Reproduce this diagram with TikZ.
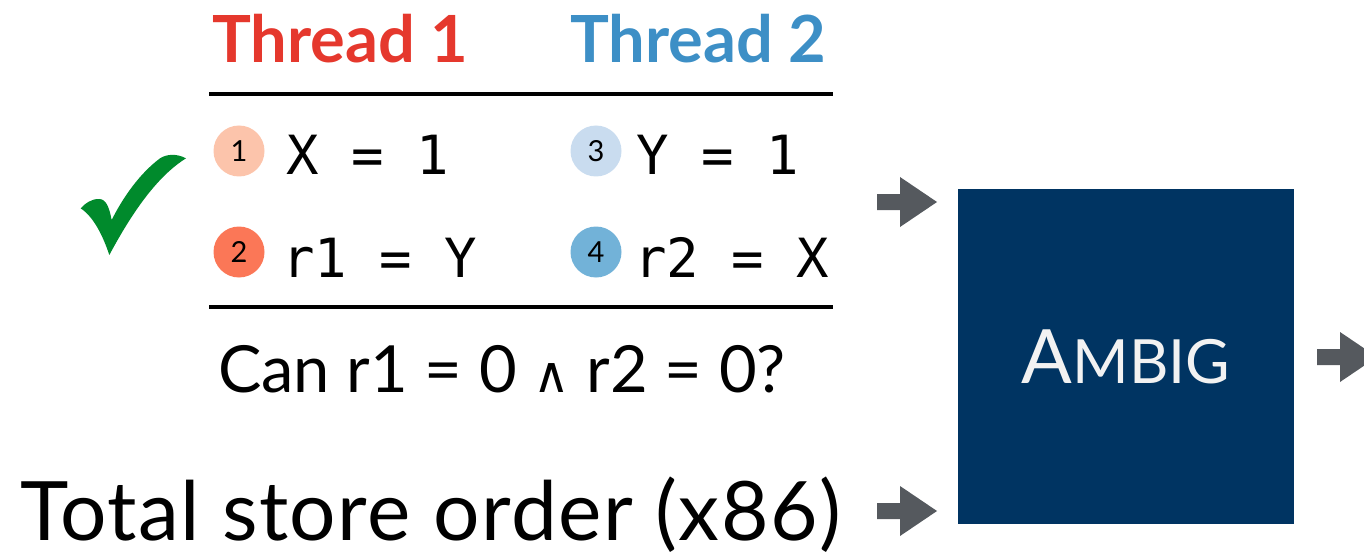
\documentclass[tikz,border=0pt]{standalone}
\usepackage{fontspec}
\setmainfont{Lato}
\setmonofont{DejaVu Sans Mono}
\newfontfamily\symfont{DejaVu Sans}
\definecolor{redT}{HTML}{E5382D}
\definecolor{blueT}{HTML}{3D8FC6}
\definecolor{redA}{HTML}{FCC4AB}
\definecolor{redB}{HTML}{FB7757}
\definecolor{blueA}{HTML}{C9DCEF}
\definecolor{blueB}{HTML}{72B2D8}
\definecolor{navy}{HTML}{003462}
\definecolor{arrowgray}{HTML}{55595E}
\definecolor{okgreen}{HTML}{008A2C}

\begin{document}
\begin{tikzpicture}[x=1pt,y=-1pt,
    head/.style={anchor=base west,inner sep=0pt,font=\fontsize{65}{65}\selectfont\bfseries},
    stmt/.style={anchor=base west,inner sep=0pt,font=\fontsize{54}{54}\selectfont\ttfamily},
    num/.style={circle,minimum size=51,inner sep=0pt,font=\fontsize{29}{29}\selectfont},
    rule/.style={line width=4.5pt},
    bigtext/.style={anchor=base west,inner sep=0pt},
    fatarrow/.pic={\fill[arrowgray] (0,-8) -- (23,-8) -- (23,-25) -- (60,0)
                     -- (23,25) -- (23,8) -- (0,8) -- cycle;},
  ]
  \useasboundingbox (0,0) rectangle (1364,556);

  % Headings
  \node[head,text=redT]  (thr1) at (212,63) {Thread 1};
  \node[head,text=blueT] (thr2) at (570,63) {Thread 2};

  % Rules
  \coordinate (ruleA1) at (209,94);
  \coordinate (ruleA2) at (833,94);
  \coordinate (ruleB1) at (209,307);
  \coordinate (ruleB2) at (833,307);
  \draw[rule] (ruleA1) -- (ruleA2);
  \draw[rule] (ruleB1) -- (ruleB2);

  % Thread 1
  \node[num,fill=redA]  (n1) at (239,151) {1};
  \node[num,fill=redB]  (n2) at (239,252) {2};
  \node[stmt] (s1) at (286,175) {X = 1};
  \node[stmt] (s2) at (282,277) {r1 = Y};

  % Thread 2
  \node[num,fill=blueA] (n3) at (596,151) {3};
  \node[num,fill=blueB] (n4) at (596,252) {4};
  \node[stmt] (s3) at (636,175) {Y = 1};
  \node[stmt] (s4) at (634,277) {r2 = X};

  % Check mark
  \begin{scope}[shift={(60,120)},scale=1/3]
    \fill[okgreen] (148,405) .. controls (215,280) and (290,170) .. (378,115)
      .. controls (350,100) and (320,102) .. (300,115)
      .. controls (240,160) and (190,230) .. (155,300)
      .. controls (148,265) and (140,238) .. (118,237)
      .. controls (95,236) and (75,250) .. (62,265)
      .. controls (100,290) and (128,345) .. (148,405) -- cycle;
  \end{scope}

  % Question and model
  \node[bigtext,font=\fontsize{65}{65}\selectfont] (quest) at (218,392)
    {Can r1 = 0 {\symfont\fontsize{50}{50}\selectfont ∧} r2 = 0?};
  \node[bigtext,font=\fontsize{82}{82}\selectfont\addfontfeature{LetterSpace=1.8}]
    (model) at (20,540) {Total store order (x86)};

  % Tool
  \node[fill=navy,minimum width=336,minimum height=335,inner sep=0pt,
        text=white!95!black] (ambig) at (1126,356.5)
    {\fontsize{75}{75}\selectfont A\fontsize{61}{61}\selectfont MBIG};

  % Arrows
  \pic at (877,202) {fatarrow};
  \pic at (877,511) {fatarrow};
  \pic at (1317,357) {fatarrow};

\end{tikzpicture}
\end{document}
